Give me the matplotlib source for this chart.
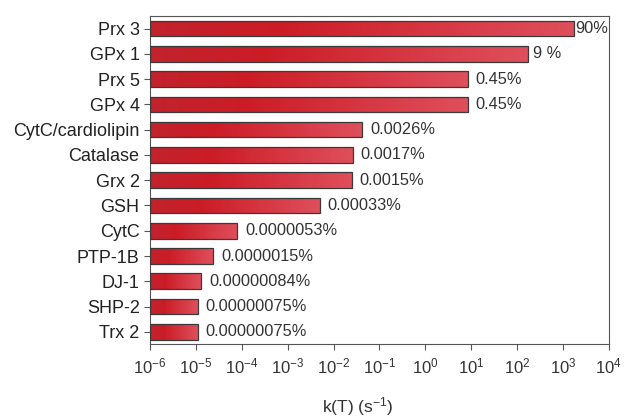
import numpy as np
import matplotlib.pyplot as plt
from matplotlib.colors import LinearSegmentedColormap

plt.rcParams['font.family'] = ['Liberation Sans', 'DejaVu Sans']
plt.rcParams['mathtext.fontset'] = 'custom'
plt.rcParams['mathtext.rm'] = 'Liberation Sans'
plt.rcParams['mathtext.it'] = 'Liberation Sans:italic'
plt.rcParams['mathtext.bf'] = 'Liberation Sans:bold'

proteins = ["Prx 3", "GPx 1", "Prx 5", "GPx 4", "CytC/cardiolipin", "Catalase",
            "Grx 2", "GSH", "CytC", "PTP-1B", "DJ-1", "SHP-2", "Trx 2"]
# k(T) in s^-1
k_values = [1.7e3, 1.75e2, 8.5, 8.5, 4.2e-2, 2.6e-2,
            2.5e-2, 5.0e-3, 8.0e-5, 2.4e-5, 1.3e-5, 1.1e-5, 1.1e-5]
shares = ["90%", "9 %", "0.45%", "0.45%", "0.0026%", "0.0017%",
          "0.0015%", "0.00033%", "0.0000053%", "0.0000015%", "0.00000084%",
          "0.00000075%", "0.00000075%"]
label_gaps = [0.03, 0.11, 0.17, 0.17, 0.17, 0.17, 0.17, 0.17, 0.17, 0.17, 0.17, 0.17, 0.17]

xmin, xmax = 1e-6, 1e4
bar_h = 0.62
nseg = 80

fig = plt.figure(figsize=(6.29, 4.19), dpi=100)
ax = fig.add_axes([0.2385, 0.179, 0.7295, 0.783])
ax.set_xscale("log")

cmap = LinearSegmentedColormap.from_list(
    "redgrad", [(0.0, "#c1222c"), (0.3, "#cb1c26"), (1.0, "#de4e5b")])

y = np.arange(len(proteins))
for i, v in enumerate(k_values):
    # gradient along each bar: split it into thin slices in log space
    edges = np.logspace(np.log10(xmin), np.log10(v), nseg + 1)
    cols = cmap(np.linspace(0, 1, nseg))
    ax.barh([i] * nseg, np.diff(edges), left=edges[:-1], height=bar_h,
            color=cols, linewidth=0, antialiased=False, zorder=2)
    ax.text(v * 10 ** label_gaps[i], i, shares[i], va="center", ha="left",
            fontsize=11.8, color="#333333")

ax.barh(y, [v - xmin for v in k_values], left=xmin, height=bar_h,
        facecolor="none", edgecolor="#3a3a3a", linewidth=0.9, zorder=3)

ax.set_xlim(xmin, xmax)
ax.set_ylim(12.48, -0.5)
ax.set_yticks(y)
ax.set_yticklabels(proteins, fontsize=13, color="#222222")
ax.set_xticks([10.0 ** e for e in range(-6, 5)])
ax.set_xticklabels([f"$10^{{{e}}}$" for e in range(-6, 5)], fontsize=12, color="#333333")
ax.minorticks_off()
ax.tick_params(axis="both", direction="out", length=4, width=0.8, color="#555555")
ax.tick_params(axis="x", pad=5)
ax.set_xlabel("k(T) (s$^{-1}$)", fontsize=12.5, color="#333333")
ax.xaxis.set_label_coords(0.453, -0.155)
for s in ax.spines.values():
    s.set_color("#555555")
    s.set_linewidth(0.8)

fig.savefig("out.png", dpi=100)
